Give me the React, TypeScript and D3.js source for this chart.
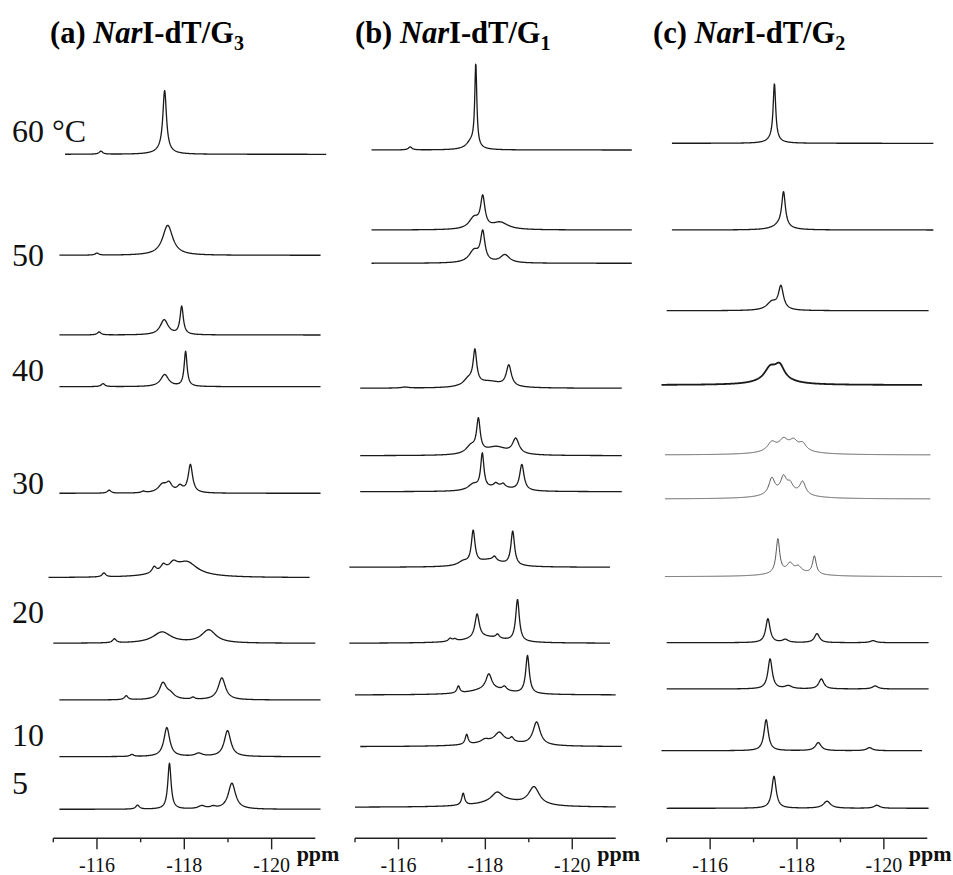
import React from "react";
import * as d3 from "d3";

// ---------- DATA ----------
// Peak lists: [ppm, intensity, half-width (ppm)]
type Peak = [number, number, number];

const panelLetters = ["(a)", "(b)", "(c)"];
const panelSubs = ["3", "1", "2"];

const majorTicks = [-116, -118, -120];
const minorTicks = [-115, -117, -119];
const ppmDomain: [number, number] = [-115, -121];

const tempLabels = ["60 °C", "50", "40", "30", "20", "10", "5"];
const tempLevels = [698, 574, 459, 346, 217, 94, 46];

// Panel (a) NarI-dT/G3
const levelsA = [685.7, 584.7, 505, 453.3, 346.7, 262.3, 196.7, 140, 83.3, 30.7];
const rangesA: [number, number][] = [
  [-115.27, -121.25], [-115.14, -121.12], [-115.14, -121.12], [-115.14, -121.12],
  [-115.14, -121.12], [-114.89, -120.87], [-115.0, -121.0], [-115.14, -121.12],
  [-115.14, -121.12], [-115.14, -121.12],
];
const peaksA: Peak[][] = [
  [[-117.55, 61, 0.05], [-117.5, 3, 0.2], [-116.09, 3, 0.05]],
  [[-117.62, 30, 0.14], [-116.0, 2, 0.05]],
  [[-117.54, 15, 0.11], [-117.94, 28, 0.045], [-116.05, 3, 0.05]],
  [[-117.55, 12, 0.11], [-118.03, 35, 0.04], [-116.14, 3, 0.05]],
  [[-117.5, 8, 0.12], [-117.65, 8, 0.08], [-117.9, 6, 0.08], [-118.14, 28, 0.06], [-116.28, 3, 0.05], [-117.06, 1.5, 0.05]],
  [[-117.31, 6, 0.06], [-117.52, 6, 0.07], [-117.75, 6, 0.1], [-118.08, 9, 0.25], [-117.85, 8, 0.5], [-116.16, 4, 0.05]],
  [[-117.49, 11, 0.25], [-118.56, 13, 0.2], [-116.4, 4, 0.05]],
  [[-117.51, 16, 0.1], [-117.68, 5, 0.12], [-118.2, 2, 0.05], [-118.86, 22, 0.1], [-116.67, 4, 0.05]],
  [[-117.6, 29, 0.08], [-118.99, 26, 0.09], [-118.33, 3, 0.1], [-116.8, 2, 0.05]],
  [[-117.66, 46, 0.045], [-119.09, 26, 0.1], [-118.4, 3, 0.1], [-118.66, 2, 0.08], [-116.93, 4, 0.05]],
];

// Panel (b) NarI-dT/G1
const levelsB = [690, 610, 576.7, 451.7, 384.3, 348.3, 272.7, 196.7, 145, 93.3, 32.7];
const rangesB: [number, number][] = [
  [-115.38, -121.37], [-115.38, -121.37], [-115.38, -121.37], [-115.12, -121.14],
  [-115.12, -121.14], [-115.12, -121.14], [-114.87, -120.87], [-114.87, -120.87],
  [-115.0, -121.0], [-115.12, -121.14], [-115.0, -121.0],
];
const peaksB: Peak[][] = [
  [[-117.78, 82, 0.028], [-117.68, 8, 0.14], [-116.27, 3, 0.05]],
  [[-117.94, 30, 0.06], [-117.74, 11, 0.14], [-118.34, 7, 0.22]],
  [[-117.94, 29, 0.06], [-117.74, 12, 0.14], [-118.45, 8, 0.13]],
  [[-117.76, 33, 0.05], [-117.61, 7, 0.14], [-118.54, 21, 0.07], [-118.1, 6, 0.35], [-116.15, 1, 0.1]],
  [[-117.84, 32, 0.05], [-117.67, 8, 0.14], [-118.7, 15, 0.09], [-118.25, 8, 0.3]],
  [[-117.93, 35, 0.045], [-117.72, 6, 0.14], [-118.84, 26, 0.06], [-118.24, 3, 0.05], [-118.41, 3, 0.05], [-118.3, 5, 0.3]],
  [[-117.72, 33, 0.05], [-118.63, 34, 0.05], [-118.21, 4, 0.05], [-118.1, 7, 0.35], [-117.49, 4, 0.14]],
  [[-117.81, 24, 0.06], [-118.74, 42, 0.05], [-118.28, 4, 0.05], [-117.19, 3, 0.05], [-117.3, 2, 0.05], [-118.0, 6, 0.5]],
  [[-117.38, 7, 0.04], [-118.08, 15, 0.08], [-118.44, 4, 0.06], [-118.97, 38, 0.05], [-118.1, 6, 0.5]],
  [[-117.57, 10, 0.04], [-117.99, 3, 0.1], [-118.32, 9, 0.12], [-118.61, 4, 0.05], [-119.18, 23, 0.1], [-118.3, 5, 0.6]],
  [[-117.49, 12, 0.04], [-118.27, 9, 0.15], [-119.12, 18, 0.15], [-118.4, 6, 0.6]],
];

// Panel (c) NarI-dT/G2
const levelsC = [696.7, 610, 529.3, 455, 385, 341, 263.3, 197.3, 151, 89.3, 31.7];
const rangesC: [number, number][] = [
  [-115.12, -121.14], [-115.12, -121.14], [-115.0, -121.03], [-114.88, -120.88],
  [-114.96, -121.07], [-114.96, -121.07], [-114.96, -121.34], [-115.0, -121.03],
  [-115.0, -121.03], [-114.88, -120.88], [-115.0, -121.03],
];
const peaksC: Peak[][] = [
  [[-117.48, 56, 0.035], [-117.45, 4, 0.15]],
  [[-117.69, 34, 0.05], [-117.62, 5, 0.2]],
  [[-117.63, 23, 0.07], [-117.42, 8, 0.14]],
  [[-117.38, 11, 0.15], [-117.6, 13, 0.13], [-117.5, 6, 0.4]],
  [[-117.42, 9, 0.12], [-117.69, 10, 0.12], [-117.92, 9, 0.12], [-118.13, 7, 0.1], [-117.8, 4, 0.6]],
  [[-117.42, 16, 0.08], [-117.69, 15, 0.08], [-117.84, 8, 0.08], [-118.13, 13, 0.08], [-117.75, 6, 0.5]],
  [[-117.56, 34, 0.05], [-117.84, 8, 0.08], [-118.03, 5, 0.08], [-118.4, 18, 0.05], [-117.9, 5, 0.5]],
  [[-117.33, 24, 0.06], [-117.73, 3, 0.08], [-118.46, 9, 0.07], [-119.75, 2, 0.08]],
  [[-117.38, 30, 0.06], [-117.8, 3, 0.1], [-118.56, 10, 0.07], [-119.8, 3, 0.08]],
  [[-117.29, 31, 0.06], [-118.49, 8, 0.08], [-119.67, 3, 0.08]],
  [[-117.47, 32, 0.06], [-118.69, 7, 0.1], [-119.84, 3, 0.08]],
];
const greyC = [false, false, false, false, true, true, true, false, false, false, false];
const boldC = [false, false, false, true, false, false, false, false, false, false, false];

// ---------- LAYOUT ----------
const W = 953;
const H = 875;
const panelX: [number, number][] = [[53.3, 315.3], [355, 615.7], [666.7, 927.3]];
const titleX = [50, 355, 653];
const axisY = 838.3;
const yScale = d3.scaleLinear().domain([0, 840]).range([840, 0]);
const serif = "'Liberation Serif', 'Times New Roman', serif";

function spectrumPath(
  x: d3.ScaleLinear<number, number>,
  level: number,
  range: [number, number],
  peaks: Peak[]
) {
  const n = 700;
  const pts: [number, number][] = d3.range(n + 1).map((i) => {
    const p = range[0] + ((range[1] - range[0]) * i) / n;
    let v = 0;
    for (const [c, h, w] of peaks) {
      const t = (p - c) / w;
      v += h / (1 + t * t);
    }
    return [x(p), yScale(level + v)];
  });
  return d3.line()(pts) || "";
}

function Panel({ idx, levels, ranges, peaks, grey, bold }: any) {
  const [x0, x1] = panelX[idx];
  const x = d3.scaleLinear().domain(ppmDomain).range([x0, x1]);
  return (
    <g>
      <text x={titleX[idx]} y={43} fontFamily={serif} fontWeight="bold" fontSize={30.5} fill="#000">
        {panelLetters[idx] + " "}
        <tspan fontStyle="italic">Nar</tspan>
        <tspan>I-dT/G</tspan>
        <tspan fontSize={20} dy={7}>{panelSubs[idx]}</tspan>
      </text>
      {levels.map((lv: number, i: number) => (
        <path
          key={i}
          d={spectrumPath(x, lv, ranges[i], peaks[i])}
          fill="none"
          stroke={grey && grey[i] ? "#555" : "#1a1a1a"}
          strokeWidth={bold && bold[i] ? 1.8 : grey && grey[i] ? 1 : 1.3}
          strokeLinejoin="round"
        />
      ))}
      <line x1={x(ppmDomain[0])} x2={x(ppmDomain[1])} y1={axisY} y2={axisY} stroke="#222" strokeWidth={1.4} />
      {majorTicks.map((t) => (
        <g key={t}>
          <line x1={x(t)} x2={x(t)} y1={axisY} y2={axisY + 11} stroke="#222" strokeWidth={1.4} />
          <text x={x(t)} y={872} textAnchor="middle" fontFamily={serif} fontSize={20} fill="#111">
            {String(t)}
          </text>
        </g>
      ))}
      {minorTicks.map((t) => (
        <line key={t} x1={x(t)} x2={x(t)} y1={axisY} y2={axisY + 4} stroke="#222" strokeWidth={1.4} />
      ))}
      <text x={x(-120) + 25} y={861} fontFamily={serif} fontWeight="bold" fontSize={22} fill="#111">
        ppm
      </text>
    </g>
  );
}

export default function App() {
  return (
    <svg
      width={W}
      height={H}
      viewBox={`0 0 ${W} ${H}`}
      style={{ position: "absolute", left: 0, top: 0, background: "#fff" }}
    >
      <rect width={W} height={H} fill="#fff" />
      <Panel idx={0} levels={levelsA} ranges={rangesA} peaks={peaksA} />
      <Panel idx={1} levels={levelsB} ranges={rangesB} peaks={peaksB} />
      <Panel idx={2} levels={levelsC} ranges={rangesC} peaks={peaksC} grey={greyC} bold={boldC} />
      {tempLabels.map((t, i) => (
        <text key={t} x={12} y={yScale(tempLevels[i])} fontFamily={serif} fontSize={32} fill="#111">
          {t}
        </text>
      ))}
    </svg>
  );
}
